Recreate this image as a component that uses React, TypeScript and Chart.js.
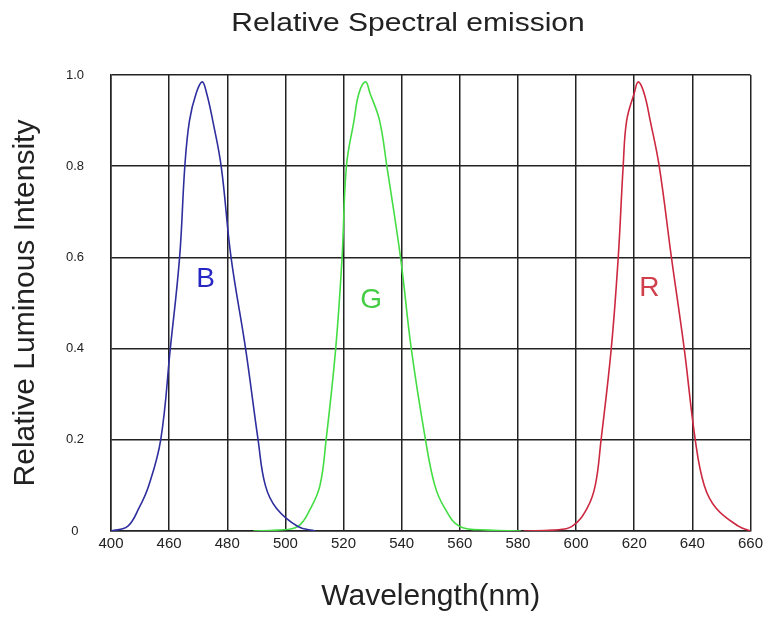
import React, { useEffect, useRef } from "react";
import { Chart, registerables } from "chart.js";

Chart.register(...registerables);

const chartTitle = "Relative Spectral emission";
const xAxisTitle = "Wavelength(nm)";
const yAxisTitle = "Relative Luminous Intensity";

const xTickLabels = ["400", "460", "480", "500", "520", "540", "560", "580", "600", "620", "640", "660"];
const yTickLabels = ["0", "0.2", "0.4", "0.6", "0.8", "1.0"];

const blueWavelength = [440, 445.7, 449.6, 453.0, 457.1, 460.4, 463.6, 465.4, 467.0, 469.3, 471.4, 472.9, 475.0, 477.9, 481.3, 486.3, 490.6, 493.1, 496.9, 504.3, 510.3];
const blueIntensity = [0, 0.01, 0.05, 0.1, 0.2, 0.4, 0.6, 0.8, 0.9, 0.96, 0.985, 0.96, 0.9, 0.8, 0.6, 0.4, 0.2, 0.1, 0.05, 0.01, 0];

const greenWavelength = [489, 497, 504.3, 508.7, 511.9, 514.0, 517.3, 519.5, 521.0, 523.6, 525.3, 527.6, 529.1, 532.4, 534.9, 539.6, 543.3, 548.2, 551.4, 554.8, 560.0, 570.0, 581.0];
const greenIntensity = [0, 0.002, 0.01, 0.05, 0.1, 0.2, 0.4, 0.6, 0.8, 0.9, 0.96, 0.985, 0.96, 0.9, 0.8, 0.6, 0.4, 0.2, 0.1, 0.05, 0.01, 0.002, 0];

const redWavelength = [582, 592, 598.6, 603.8, 606.6, 608.6, 612.1, 614.5, 616.2, 617.4, 620.0, 621.4, 623.4, 625.5, 628.6, 632.8, 637.2, 641.0, 644.1, 648.2, 656.0, 660];
const redIntensity = [0, 0.002, 0.01, 0.05, 0.1, 0.2, 0.4, 0.6, 0.8, 0.9, 0.96, 0.985, 0.96, 0.9, 0.8, 0.6, 0.4, 0.2, 0.1, 0.05, 0.01, 0];

const seriesNames = ["B", "G", "R"];
const lineColors = ["#2e2e9e", "#44dd44", "#cc2840"];
const labelColors = ["#2626c4", "#44cc44", "#d0404c"];
const labelWavelength = [472.5, 529.5, 625.2];
const labelIntensity = [0.535, 0.49, 0.516];

const FONT = '"Liberation Sans", Arial, sans-serif';

function toPoints(xs: number[], ys: number[]) {
  return xs.map((x, i) => ({ x, y: ys[i] }));
}

const annotationPlugin = {
  id: "annotations",
  afterDraw(chart: any) {
    const ctx = chart.ctx as CanvasRenderingContext2D;
    const xs = chart.scales.x;
    const ys = chart.scales.y;
    ctx.save();
    ctx.font = `25px ${FONT}`;
    ctx.fillStyle = "#222";
    ctx.textAlign = "center";
    ctx.textBaseline = "alphabetic";
    ctx.translate(408, 31);
    ctx.scale(1.2, 1);
    ctx.fillText(chartTitle, 0, 0);
    ctx.restore();

    ctx.save();
    ctx.font = `28px ${FONT}`;
    ctx.textAlign = "center";
    ctx.textBaseline = "alphabetic";
    seriesNames.forEach((name, i) => {
      ctx.fillStyle = labelColors[i];
      ctx.fillText(name, xs.getPixelForValue(labelWavelength[i]), ys.getPixelForValue(labelIntensity[i]));
    });
    ctx.restore();
  },
};

export default function App() {
  const canvasRef = useRef<HTMLCanvasElement | null>(null);

  useEffect(() => {
    if (!canvasRef.current) return;
    const series = [
      toPoints(blueWavelength, blueIntensity),
      toPoints(greenWavelength, greenIntensity),
      toPoints(redWavelength, redIntensity),
    ];
    const chart = new Chart(canvasRef.current, {
      type: "line",
      data: {
        datasets: series.map((pts, i) => ({
          label: seriesNames[i],
          data: pts,
          borderColor: lineColors[i],
          borderWidth: 1.6,
          pointRadius: 0,
          fill: false,
          tension: 0.4,
        })),
      },
      options: {
        responsive: false,
        animation: false,
        layout: { padding: { top: 75, right: 15, bottom: 0, left: 0 } },
        plugins: {
          legend: { display: false },
          tooltip: { enabled: false },
          title: { display: false },
        },
        scales: {
          x: {
            type: "linear",
            min: 440,
            max: 660,
            afterFit: (s: any) => {
              s.height = 90;
            },
            ticks: {
              stepSize: 20,
              autoSkip: false,
              maxRotation: 0,
              padding: 4,
              color: "#222",
              font: { family: FONT, size: 15 },
              callback: (_v: any, i: number) => xTickLabels[i],
            },
            grid: { color: "#222", lineWidth: 1.5, drawTicks: false },
            border: { color: "#222", width: 1.5 },
            title: {
              display: true,
              text: xAxisTitle,
              color: "#222",
              font: { family: FONT, size: 30 },
              padding: { top: 0, bottom: 6 },
            },
          },
          y: {
            type: "linear",
            min: 0,
            max: 1,
            afterFit: (s: any) => {
              s.width = 111;
            },
            ticks: {
              stepSize: 0.2,
              padding: 27,
              crossAlign: "center",
              color: "#222",
              font: { family: FONT, size: 13 },
              callback: (_v: any, i: number) => yTickLabels[i],
            },
            grid: { color: "#222", lineWidth: 1.5, drawTicks: false },
            border: { color: "#222", width: 1.5 },
            title: {
              display: true,
              text: yAxisTitle,
              color: "#222",
              font: { family: FONT, size: 30 },
              padding: { top: 8, bottom: 0 },
            },
          },
        },
      },
      plugins: [annotationPlugin],
    });
    return () => chart.destroy();
  }, []);

  return (
    <div style={{ position: "absolute", left: 0, top: 0, width: 767, height: 621, background: "#fff" }}>
      <canvas ref={canvasRef} width={767} height={621} style={{ display: "block" }} />
    </div>
  );
}
